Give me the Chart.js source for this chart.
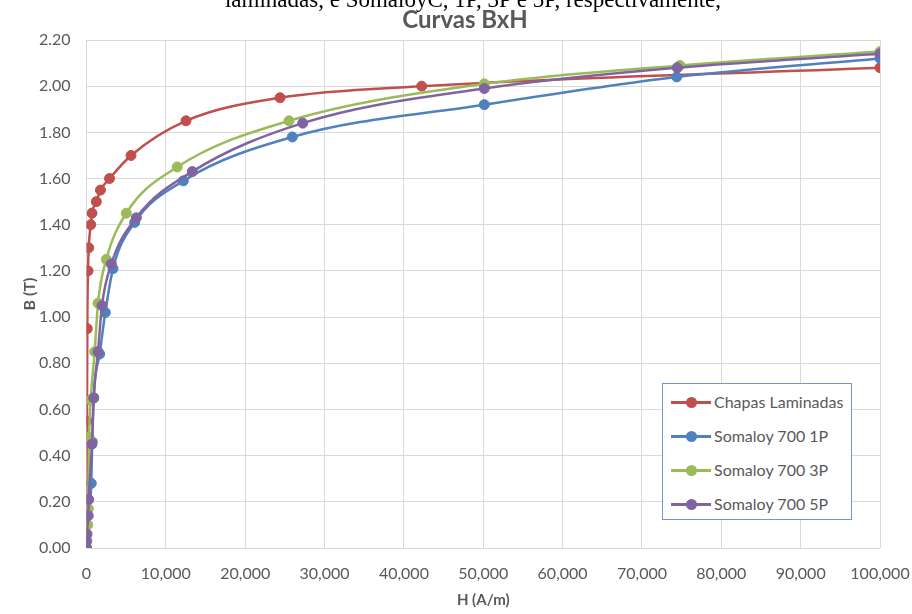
<!DOCTYPE html>
<html>
<head>
<meta charset="utf-8">
<script src="https://cdn.jsdelivr.net/npm/chart.js@4/dist/chart.umd.min.js"></script>
<style>
  html, body { margin: 0; padding: 0; background: #fff; }
  #wrap { position: relative; width: 912px; height: 614px; overflow: hidden; }
  #cut { position: absolute; left: 17px; width: 912px; top: -13px; text-align: center;
         font-family: "Liberation Serif", "Times New Roman", serif; font-size: 23px; color: #000; white-space: nowrap; }
  #title { position: absolute; left: 0; width: 930px; top: 4px; text-align: center;
           font-family: Lato, sans-serif; font-weight: bold; font-size: 24px; color: #595959; }
  #legend { position: absolute; left: 662px; top: 383px; width: 190px; height: 137px;
            border: 1px solid #6f97d4; background: #fff; box-sizing: border-box; }
  .row { position: absolute; left: 0; height: 20px; font-family: Lato, sans-serif; font-size: 16px; color: #595959; }
  .row .ln { position: absolute; left: 8px; top: 9px; width: 40px; height: 3px; }
  .row .dot { position: absolute; left: 23px; top: 5px; width: 11px; height: 11px; border-radius: 50%; }
  .row .tx { position: absolute; left: 51px; top: 0px; white-space: nowrap; }
  canvas { position: absolute; left: 0; top: 0; }
</style>
</head>
<body>
<div id="wrap">
  <canvas id="c" width="912" height="614"></canvas>
  <div id="cut">laminadas, e SomaloyC, 1P, 3P e 5P, respectivamente,</div>
  <div id="title">Curvas BxH</div>
  <div id="legend"></div>
</div>
<script>
// ---- data (H in A/m, B in T) ----
const seriesNames = ["Chapas Laminadas", "Somaloy 700 1P", "Somaloy 700 3P", "Somaloy 700 5P"];
const seriesColors = ["#c0504d", "#4f81bd", "#9bbb59", "#8064a2"];

const hChapas = [0, 60, 100, 190, 280, 530, 690, 1240, 1760, 2900, 5610, 12540, 24390, 42240, 100000];
const bChapas = [0, 0.55, 0.95, 1.20, 1.30, 1.40, 1.45, 1.50, 1.55, 1.60, 1.70, 1.85, 1.95, 2.00, 2.08];

const hS1 = [0, 600, 720, 900, 1660, 2370, 3340, 6070, 12200, 25940, 50130, 74380, 100000];
const bS1 = [0, 0.28, 0.46, 0.65, 0.84, 1.02, 1.21, 1.41, 1.59, 1.78, 1.92, 2.04, 2.12];

const hS3 = [0, 150, 230, 330, 530, 1030, 1450, 2500, 5020, 11440, 25520, 50130, 74780, 100000];
const bS3 = [0, 0.10, 0.17, 0.48, 0.64, 0.85, 1.06, 1.25, 1.45, 1.65, 1.85, 2.01, 2.09, 2.15];

const hS5 = [0, 30, 60, 220, 280, 690, 910, 1450, 1950, 3130, 6280, 13330, 27250, 50130, 74450, 100000];
const bS5 = [0, 0.03, 0.06, 0.14, 0.21, 0.45, 0.65, 0.85, 1.05, 1.23, 1.43, 1.63, 1.84, 1.99, 2.08, 2.14];

const xTicks = [0, 10000, 20000, 30000, 40000, 50000, 60000, 70000, 80000, 90000, 100000];
const yTicks = [0, 0.2, 0.4, 0.6, 0.8, 1.0, 1.2, 1.4, 1.6, 1.8, 2.0, 2.2];

const hArr = [hChapas, hS1, hS3, hS5];
const bArr = [bChapas, bS1, bS3, bS5];
const drawOrder = [4, 3, 2, 1];

const datasets = seriesNames.map((name, i) => ({
  label: name,
  data: hArr[i].map((h, k) => ({ x: h, y: bArr[i][k] })),
  borderColor: seriesColors[i],
  backgroundColor: seriesColors[i],
  pointBackgroundColor: seriesColors[i],
  pointBorderColor: seriesColors[i],
  pointRadius: 5,
  pointBorderWidth: 1,
  borderWidth: 2.5,
  cubicInterpolationMode: 'monotone',
  tension: 0.4,
  showLine: true,
  fill: false,
  order: drawOrder[i]
}));

const tickFont = { family: 'Lato, sans-serif', size: 16 };
const grey = '#595959';

new Chart(document.getElementById('c'), {
  type: 'scatter',
  data: { datasets },
  options: {
    responsive: false,
    animation: false,
    layout: { padding: { left: 0, right: 32, top: 40, bottom: 0 } },
    plugins: { legend: { display: false }, tooltip: { enabled: false }, title: { display: false } },
    scales: {
      x: {
        type: 'linear', min: 0, max: 100000,
        afterBuildTicks: s => { s.ticks = xTicks.map(v => ({ value: v })); },
        afterFit: s => { s.height = 66; s.paddingLeft = 0; s.paddingRight = 0; },
        grid: { color: '#d9d9d9', drawTicks: false, lineWidth: 1 },
        border: { display: false },
        ticks: { font: tickFont, color: grey, padding: 16, maxRotation: 0,
                 callback: v => v.toLocaleString('en-US') },
        title: { display: true, text: 'H (A/m)', font: { family: 'Lato, sans-serif', size: 15, weight: 'bold' },
                 color: grey, padding: { top: 0, bottom: 5 } }
      },
      y: {
        type: 'linear', min: 0, max: 2.2,
        afterBuildTicks: s => { s.ticks = yTicks.map(v => ({ value: v })); },
        afterFit: s => { s.width = 86.5; s.paddingTop = 0; s.paddingBottom = 0; },
        grid: { color: '#d9d9d9', drawTicks: false, lineWidth: 1 },
        border: { display: false },
        ticks: { font: tickFont, color: grey, padding: 16, callback: v => Number(v).toFixed(2) },
        title: { display: true, text: 'B (T)', font: { family: 'Lato, sans-serif', size: 16, weight: 'bold' },
                 color: grey, padding: { top: 20, bottom: 0 } }
      }
    }
  }
});

// HTML legend built from the series arrays
const lg = document.getElementById('legend');
const rowTops = [8, 42, 76, 110];
seriesNames.forEach((name, i) => {
  const r = document.createElement('div');
  r.className = 'row';
  r.style.top = rowTops[i] + 'px';
  r.innerHTML = '<div class="ln" style="background:' + seriesColors[i] + '"></div>' +
                '<div class="dot" style="background:' + seriesColors[i] + '"></div>' +
                '<div class="tx">' + name + '</div>';
  lg.appendChild(r);
});
</script>
</body>
</html>
